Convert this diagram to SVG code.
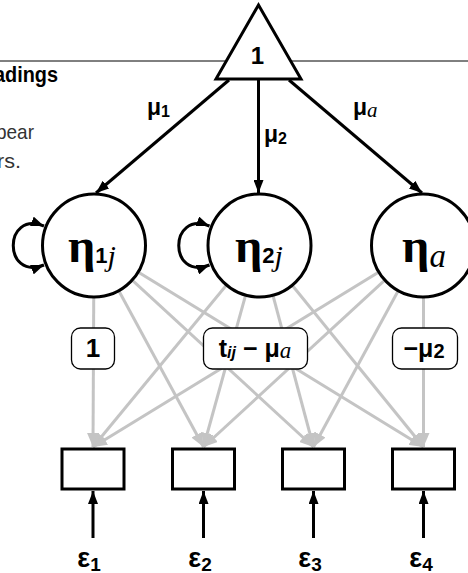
<svg xmlns="http://www.w3.org/2000/svg" width="468" height="573" viewBox="0 0 468 573">
<style>
  .bg{fill:#ffffff}
  .gray{stroke:#c4c4c4;stroke-width:3;fill:none}
  .blk{stroke:#000;stroke-width:3;fill:none}
  .node{fill:#fff;stroke:#000;stroke-width:3}
  .lbl{fill:#fff;stroke:#000;stroke-width:1.3}
  .sans{font-family:"Liberation Sans",Arial,sans-serif}
  .serif{font-family:"Liberation Serif","Times New Roman",serif}
  .b{font-weight:bold}
  .i{font-style:italic}
</style>
<defs>
  <marker id="ah" markerUnits="userSpaceOnUse" markerWidth="14" markerHeight="10" refX="13" refY="5" orient="auto">
    <path d="M0,0 L13,5 L0,10 z" fill="#000"/>
  </marker>
  <marker id="ahs" markerUnits="userSpaceOnUse" markerWidth="14" markerHeight="10" refX="13" refY="5" orient="auto-start-reverse">
    <path d="M0,0 L13,5 L0,10 z" fill="#000"/>
  </marker>
  <marker id="gh" markerUnits="userSpaceOnUse" markerWidth="15" markerHeight="12" refX="14" refY="6" orient="auto">
    <path d="M0,0 L14,6 L0,12 z" fill="#c4c4c4"/>
  </marker>
</defs>
<rect class="bg" x="0" y="0" width="468" height="573"/>

<!-- header fragment -->
<line x1="0" y1="61" x2="468" y2="61" stroke="#000" stroke-width="1"/>
<text class="sans b" x="-6" y="82" font-size="22" textLength="64" lengthAdjust="spacingAndGlyphs" fill="#000">adings</text>
<text class="sans" x="-4" y="139" font-size="21" textLength="38" lengthAdjust="spacingAndGlyphs" fill="#333">pear</text>
<text class="sans" x="-3" y="168" font-size="21" textLength="24" lengthAdjust="spacingAndGlyphs" fill="#333">rs.</text>

<g id="connectors">
  <!-- loadings (gray) -->
  <g class="gray">
    <line x1="94" y1="245" x2="93" y2="447" marker-end="url(#gh)"/>
    <line x1="94" y1="245" x2="203.5" y2="447" marker-end="url(#gh)"/>
    <line x1="94" y1="245" x2="313.5" y2="447" marker-end="url(#gh)"/>
    <line x1="94" y1="245" x2="423.5" y2="447" marker-end="url(#gh)"/>
    <line x1="259.5" y1="245" x2="93" y2="447" marker-end="url(#gh)"/>
    <line x1="259.5" y1="245" x2="203.5" y2="447" marker-end="url(#gh)"/>
    <line x1="259.5" y1="245" x2="313.5" y2="447" marker-end="url(#gh)"/>
    <line x1="259.5" y1="245" x2="423.5" y2="447" marker-end="url(#gh)"/>
    <line x1="423" y1="245" x2="93" y2="447" marker-end="url(#gh)"/>
    <line x1="423" y1="245" x2="203.5" y2="447" marker-end="url(#gh)"/>
    <line x1="423" y1="245" x2="313.5" y2="447" marker-end="url(#gh)"/>
    <line x1="423.5" y1="245" x2="423.5" y2="447" marker-end="url(#gh)"/>
  </g>
  <!-- means from constant -->
  <g class="blk">
    <line x1="229" y1="80" x2="96" y2="193" marker-end="url(#ah)"/>
    <line x1="258.5" y1="80" x2="258.5" y2="193" marker-end="url(#ah)"/>
    <line x1="289" y1="80" x2="422" y2="193" marker-end="url(#ah)"/>
    <!-- variances -->
    <path d="M44,226 C3,210 3,281 44,265" marker-start="url(#ahs)" marker-end="url(#ahs)"/>
    <path d="M209.5,226 C168.5,210 168.5,281 209.5,265" marker-start="url(#ahs)" marker-end="url(#ahs)"/>
    <!-- residuals -->
    <line x1="93" y1="538" x2="93" y2="491" marker-end="url(#ah)"/>
    <line x1="203.5" y1="538" x2="203.5" y2="491" marker-end="url(#ah)"/>
    <line x1="313.5" y1="538" x2="313.5" y2="491" marker-end="url(#ah)"/>
    <line x1="423.5" y1="538" x2="423.5" y2="491" marker-end="url(#ah)"/>
  </g>
  <g class="sans b" font-size="23">
    <text x="147" y="115">μ<tspan font-size="16" dy="2">1</tspan></text>
    <text x="264" y="142">μ<tspan font-size="16" dy="2">2</tspan></text>
    <text x="353" y="115">μ<tspan class="serif i" font-weight="normal" font-size="21" dy="2">a</tspan></text>
  </g>
  <!-- loading labels -->
  <g id="label-1">
    <rect class="lbl" x="71.5" y="328" width="43" height="41" rx="9"/>
    <text class="sans b" x="93" y="357" font-size="26" text-anchor="middle">1</text>
  </g>
  <g id="label-t">
    <rect class="lbl" x="203.5" y="328" width="104" height="41" rx="9"/>
    <text class="sans b" x="255" y="357" font-size="25" text-anchor="middle">t<tspan class="i" font-size="16" dy="1">ij</tspan><tspan dy="-1"> − μ</tspan><tspan class="serif i" font-weight="normal" font-size="23" dy="1">a</tspan></text>
  </g>
  <g id="label-mu2">
    <rect class="lbl" x="392.5" y="328" width="65" height="41" rx="9"/>
    <text class="sans b" x="424" y="357" font-size="25" text-anchor="middle">−μ<tspan font-size="20" dy="1">2</tspan></text>
  </g>
</g>

<g id="constant">
  <polygon class="node" points="258.5,5 216,79 301,79"/>
  <text class="sans b" x="257.5" y="64" font-size="24" text-anchor="middle">1</text>
</g>

<g id="eta1">
  <circle class="node" cx="94" cy="245.5" r="51.5"/>
  <text x="92" y="262" text-anchor="middle"><tspan class="serif b" font-size="48">η</tspan><tspan class="sans b" font-size="22" dy="1">1</tspan><tspan class="serif i" font-size="30" dy="3">j</tspan></text>
</g>
<g id="eta2">
  <circle class="node" cx="259.5" cy="245.5" r="51.5"/>
  <text x="259" y="262" text-anchor="middle"><tspan class="serif b" font-size="48">η</tspan><tspan class="sans b" font-size="22" dy="1">2</tspan><tspan class="serif i" font-size="30" dy="3">j</tspan></text>
</g>
<g id="etaa">
  <circle class="node" cx="423" cy="245.5" r="51.5"/>
  <text x="424" y="262" text-anchor="middle"><tspan class="serif b" font-size="48">η</tspan><tspan class="serif i" font-size="33" dy="5">a</tspan></text>
</g>

<g id="y1"><rect class="node" x="62" y="449" width="62" height="40"/></g>
<g id="y2"><rect class="node" x="172.5" y="449" width="62" height="40"/></g>
<g id="y3"><rect class="node" x="282.5" y="449" width="62" height="40"/></g>
<g id="y4"><rect class="node" x="392.5" y="449" width="62" height="40"/></g>

<g id="residuals" class="sans b" font-size="27">
  <text x="89" y="567" text-anchor="middle">ε<tspan font-size="19" dy="4">1</tspan></text>
  <text x="200" y="567" text-anchor="middle">ε<tspan font-size="19" dy="4">2</tspan></text>
  <text x="310" y="567" text-anchor="middle">ε<tspan font-size="19" dy="4">3</tspan></text>
  <text x="421" y="567" text-anchor="middle">ε<tspan font-size="19" dy="4">4</tspan></text>
</g>
</svg>
